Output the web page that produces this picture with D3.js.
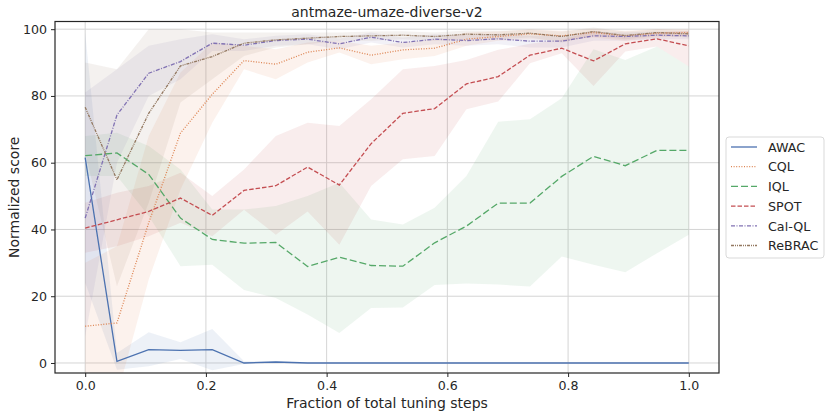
<!DOCTYPE html>
<html>
<head>
<meta charset="utf-8">
<script src="https://cdn.jsdelivr.net/npm/d3@7"></script>
<style>
  body { margin: 0; background: #fff; }
  svg text { font-family: "DejaVu Sans", sans-serif; fill: #262626; }
</style>
</head>
<body>
<div class="chart"></div>
<script>
// fraction of tuning steps, 20 evaluation points
const steps = d3.range(20).map(i => i / 19)

const names = ["AWAC", "CQL", "IQL", "SPOT", "Cal-QL", "ReBRAC"]
const colors = ["#4c72b0", "#dd8452", "#55a868", "#c44e52", "#8172b3", "#937860"]
const xTicks = [0, 0.2, 0.4, 0.6, 0.8, 1.0]
const yTicks = [0, 20, 40, 60, 80, 100]

const awacMean = [61.5, 0.5, 4.0, 3.8, 4.0, 0.0, 0.3, 0, 0, 0, 0, 0, 0, 0, 0, 0, 0, 0, 0, 0]
const awacLo = [24, -2, -1, 1.2, -2.2, -0.3, 0, 0, 0, 0, 0, 0, 0, 0, 0, 0, 0, 0, 0, 0]
const awacHi = [99, 3, 9.2, 6.2, 10.2, 0.5, 0.6, 0, 0, 0, 0, 0, 0, 0, 0, 0, 0, 0, 0, 0]

const cqlMean = [11.0, 12.0, 42.0, 68.9, 80.5, 90.6, 89.5, 93.1, 94.4, 92.2, 93.8, 94.3, 97.0, 97.8, 98.6, 98.0, 99.0, 98.0, 98.8, 99.0]
const cqlLo = [-5, -10, 25, 52, 72, 88, 85, 90, 93, 89.5, 91, 92, 95, 96.5, 97, 96.5, 97.5, 96.5, 97.5, 98]
const cqlHi = [30, 35, 68, 87, 96, 95, 94, 96, 96.5, 95, 96, 97, 99, 99.3, 100, 99.5, 100, 99.5, 100, 100]

const iqlMean = [62.1, 62.9, 56.5, 43.4, 37.0, 35.9, 36.1, 28.9, 31.7, 29.2, 29.0, 36.0, 41.0, 47.9, 47.9, 55.9, 61.9, 59.1, 63.7, 63.7]
const iqlLo = [56, 56, 44, 29, 29.4, 21.9, 19.5, 14.5, 9.0, 16.5, 16.6, 23.4, 23.8, 23.5, 22.9, 31.9, 29.4, 27.2, 32.9, 38.4]
const iqlHi = [68, 69, 65, 58, 46, 46, 47, 50, 54, 43, 41.5, 46.5, 56, 72.3, 73, 79.3, 94, 90.8, 94.8, 88.8]

const spotMean = [40.4, 42.9, 45.4, 49.4, 44.2, 51.7, 53.1, 58.7, 53.3, 65.7, 74.8, 76.2, 83.6, 85.8, 92.2, 94.3, 90.5, 95.6, 97.1, 95.0]
const spotLo = [33, 35, 38, 42, 38, 45.9, 38.4, 45.4, 35.4, 53, 61, 62, 76, 78.3, 89.8, 92.8, 83, 93.3, 94.8, 88.8]
const spotHi = [48, 51, 53, 57, 50, 58, 68, 72, 71, 79, 88, 89, 90.8, 93.8, 95.6, 96.8, 99.5, 98, 99, 99.5]

const calqlMean = [43.4, 74.3, 86.8, 90.3, 95.8, 95.2, 96.6, 97.0, 95.6, 97.6, 96.0, 97.0, 96.6, 97.1, 96.4, 96.4, 98.0, 97.8, 98.2, 98.0]
const calqlLo = [8, 60, 80, 85, 93.5, 93.5, 95, 95.5, 94, 96, 94.5, 95.5, 95, 95.5, 94.5, 94.5, 96.5, 96.5, 97, 97]
const calqlHi = [81, 88, 95, 97, 98.5, 97, 98, 98.5, 97.2, 99, 97.5, 98.5, 98.2, 98.6, 98, 98, 99.3, 99, 99.3, 99.2]

const rebracMean = [76.6, 54.9, 74.8, 89.0, 91.8, 95.8, 96.8, 97.3, 97.8, 98.0, 98.2, 97.8, 98.5, 98.3, 98.8, 97.8, 99.3, 98.1, 99.0, 98.6]
const rebracLo = [63, 23, 48, 78, 85, 92, 94.5, 95.5, 96.5, 96.5, 97, 96.5, 97, 97, 97.5, 96, 98, 97, 98, 97.5]
const rebracHi = [90, 88, 100, 100, 99, 99, 99, 99, 99, 99.3, 99.4, 99, 99.6, 99.5, 99.8, 99.3, 100.5, 99.3, 100, 99.6]

const dashes = ["none", "1,1.6", "7,3", "4.5,2", "4,1.5,1,1.5", "3,1,1,1,1,1"]

const series = [
    {mean: awacMean, lo: awacLo, hi: awacHi},
    {mean: cqlMean, lo: cqlLo, hi: cqlHi},
    {mean: iqlMean, lo: iqlLo, hi: iqlHi},
    {mean: spotMean, lo: spotLo, hi: spotHi},
    {mean: calqlMean, lo: calqlLo, hi: calqlHi},
    {mean: rebracMean, lo: rebracLo, hi: rebracHi}
].map((s, i) => ({...s, name: names[i], color: colors[i], dash: dashes[i]}))

const margin = {top: 21.5, right: 112, bottom: 44, left: 55}
const W = 831, H = 417
const width = W - margin.left - margin.right
const height = H - margin.top - margin.bottom

const svg = d3.select('.chart').append('svg')
    .attr("width", W)
    .attr("height", H)
const g = svg.append("g")
    .attr("transform", `translate(${margin.left},${margin.top})`)

const xScale = d3.scaleLinear().domain([-0.05, 1.05]).range([0, width])
const yScale = d3.scaleLinear().domain([-3, 102.3]).range([height, 0])

svg.append("defs").append("clipPath").attr("id", "clip")
    .append("rect").attr("width", width).attr("height", height)

// grid
g.append("g").selectAll("line").data(xTicks).enter().append("line")
    .attr("x1", d => xScale(d)).attr("x2", d => xScale(d))
    .attr("y1", 0).attr("y2", height)
    .attr("stroke", "#d5d5d5").attr("stroke-width", 1)
g.append("g").selectAll("line").data(yTicks).enter().append("line")
    .attr("y1", d => yScale(d)).attr("y2", d => yScale(d))
    .attr("x1", 0).attr("x2", width)
    .attr("stroke", "#d5d5d5").attr("stroke-width", 1)

const plot = g.append("g").attr("clip-path", "url(#clip)")

const area = d3.area()
    .x((d, i) => xScale(steps[i]))
    .y0(d => yScale(d[0]))
    .y1(d => yScale(d[1]))

const line = d3.line()
    .x((d, i) => xScale(steps[i]))
    .y(d => yScale(d))

series.forEach(s => {
    plot.append("path")
        .datum(s.lo.map((v, i) => [v, s.hi[i]]))
        .attr("d", area)
        .attr("fill", s.color)
        .attr("fill-opacity", 0.1)
})

series.forEach(s => {
    plot.append("path")
        .datum(s.mean)
        .attr("d", line)
        .attr("fill", "none")
        .attr("stroke", s.color)
        .attr("stroke-width", 1.3)
        .attr("stroke-dasharray", s.dash)
})

// axes
const xAxis = d3.axisBottom(xScale).tickValues(xTicks).tickFormat(d3.format(".1f"))
    .tickSize(4).tickPadding(4)
const yAxis = d3.axisLeft(yScale).tickValues(yTicks).tickSize(4).tickPadding(4)

const gx = g.append("g")
    .attr("class", "x-axis")
    .attr("transform", `translate(0, ${height})`)
    .call(xAxis)
const gy = g.append("g")
    .attr("class", "y-axis")
    .call(yAxis)
;[gx, gy].forEach(a => {
    a.select(".domain").remove()
    a.selectAll("line").attr("stroke", "#262626").attr("stroke-width", 1)
    a.selectAll("text").attr("font-size", "12.6px").attr("fill", "#262626")
})

g.append("rect")
    .attr("width", width).attr("height", height)
    .attr("fill", "none").attr("stroke", "#262626").attr("stroke-width", 1.2)

svg.append("text")
    .attr("x", margin.left + width / 2)
    .attr("y", 17)
    .attr("text-anchor", "middle")
    .attr("font-size", "14px")
    .text("antmaze-umaze-diverse-v2")

svg.append("text")
    .attr("x", margin.left + width / 2)
    .attr("y", 408)
    .attr("text-anchor", "middle")
    .attr("font-size", "14px")
    .text("Fraction of total tuning steps")

svg.append("text")
    .attr("transform", `translate(18.5, ${margin.top + height / 2}) rotate(-90)`)
    .attr("text-anchor", "middle")
    .attr("font-size", "14px")
    .text("Normalized score")

// legend
const legend = svg.append("g").attr("transform", "translate(726, 137)")
legend.append("rect")
    .attr("width", 98).attr("height", 121).attr("rx", 3)
    .attr("fill", "#fff").attr("stroke", "#d9d9d9")
series.forEach((s, i) => {
    const y = 10 + i * 19.7
    legend.append("line")
        .attr("x1", 5).attr("x2", 31).attr("y1", y).attr("y2", y)
        .attr("stroke", s.color).attr("stroke-width", 1.3)
        .attr("stroke-dasharray", s.dash)
    legend.append("text")
        .attr("x", 42).attr("y", y + 4.7)
        .attr("font-size", "12.7px")
        .text(s.name)
})
</script>
</body>
</html>
